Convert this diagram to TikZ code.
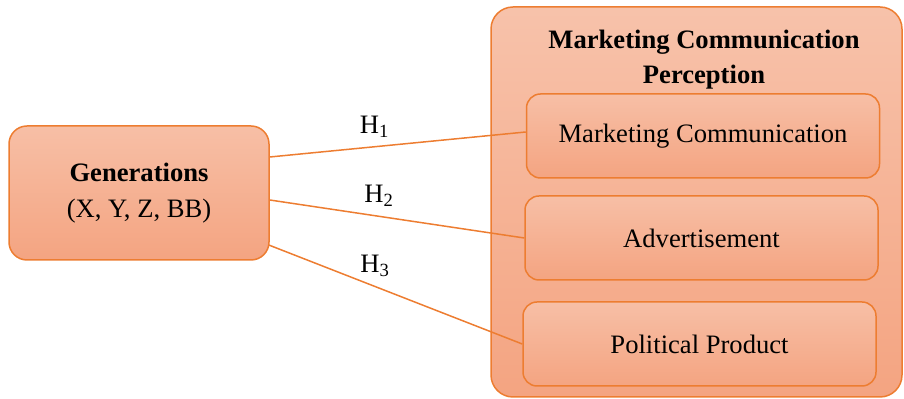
\documentclass[tikz,border=0pt]{standalone}
\usepackage{fontspec}
\setmainfont{Liberation Serif}

\definecolor{edge}{HTML}{ED7D31}
\definecolor{peachtop}{HTML}{F7BFA6}
\definecolor{peachbot}{HTML}{F4A481}

\tikzset{
  box/.style={draw=edge, line width=0.75pt, rounded corners=7pt,
    top color=peachtop, bottom color=peachbot,
    minimum width=176.5pt, minimum height=42pt, align=center,
    font=\fontsize{13.3}{16}\selectfont},
  link/.style={draw=edge, line width=0.75pt},
  hlabel/.style={above=1pt, font=\fontsize{13.3}{16}\selectfont}
}

\begin{document}
\begin{tikzpicture}[x=0.5pt, y=-0.5pt]

    \useasboundingbox (0, 0) rectangle (904, 399);

    % Bloque exterior
    \node[box, rounded corners=11pt, minimum width=205.5pt, minimum height=195pt,
      top color=peachtop!95!white, bottom color=peachbot] (mcp) at (696.5, 202) {};
    \node[font=\fontsize{13.3}{17.5}\selectfont\bfseries, align=center] (title) at (704, 60)
      {Marketing Communication\\Perception};

    % Cajas interiores
    \node[box] (mc) at (703, 136) {Marketing Communication};
    \node[box] (adv) at (701.5, 238) {Advertisement};
    \node[box] (pol) at (699.5, 344) {Political Product};

    % Generaciones
    \node[box, rounded corners=9pt, minimum width=130pt, minimum height=67pt,
      inner sep=4pt] (gen) at (139, 193) {\textbf{Generations}\\[2pt](X, Y, Z, BB)};

    % Hipótesis
    \draw[link] ([yshift=18pt]gen.east) -- node[hlabel, pos=0.41] {H\textsubscript{1}} ([yshift=2pt]mc.west);
    \draw[link] ([yshift=-3.5pt]gen.east) -- node[hlabel, pos=0.43] {H\textsubscript{2}} (adv.west);
    \draw[link] ([xshift=-0.5pt, yshift=-26pt]gen.east) -- node[hlabel, pos=0.42] {H\textsubscript{3}} (pol.west);

\end{tikzpicture}
\end{document}
